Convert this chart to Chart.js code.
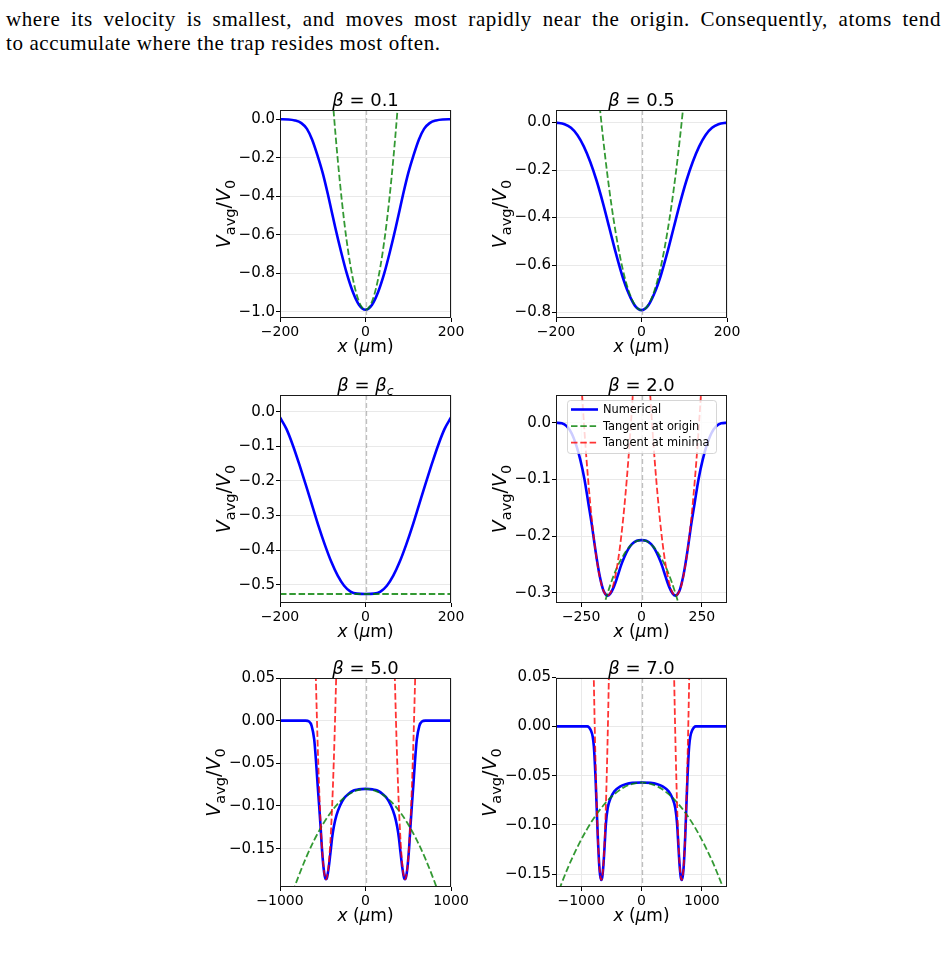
<!DOCTYPE html>
<html>
<head>
<meta charset="utf-8">
<script src="https://cdn.jsdelivr.net/npm/chart.js@4.4.1/dist/chart.umd.min.js"></script>
<style>
  body { margin: 0; background: #fff; width: 947px; height: 967px; overflow: hidden; position: relative; }
  .txt { position: absolute; left: 6px; width: 935px; font: 21px "Liberation Serif", serif; line-height: 23px; color: #000; letter-spacing: 0.6px; }
  #l1 { top: 8px; text-align: justify; text-align-last: justify; }
  #l2 { top: 32px; white-space: nowrap; }
  canvas { position: absolute; }
</style>
</head>
<body>
<div class="txt" id="l1">where its velocity is smallest, and moves most rapidly near the origin. Consequently, atoms tend</div>
<div class="txt" id="l2">to accumulate where the trap resides most often.</div>
<canvas id="c1"></canvas>
<canvas id="c2"></canvas>
<canvas id="c3"></canvas>
<canvas id="c4"></canvas>
<canvas id="c5"></canvas>
<canvas id="c6"></canvas>
<script>
const FONT = '"DejaVu Sans"';

// ---- beta = 0.1 ----
const x1Num = [-200,-180,-165,-150,-137,-125,-112,-100,-88,-80,-71,-57,-44,-30,-15,0,15,30,44,57,71,80,88,100,112,125,137,150,165,180,200];
const y1Num = [0,-0.001,-0.006,-0.02,-0.05,-0.105,-0.19,-0.28,-0.39,-0.47,-0.56,-0.69,-0.8,-0.895,-0.965,-0.99,-0.965,-0.895,-0.8,-0.69,-0.56,-0.47,-0.39,-0.28,-0.19,-0.105,-0.05,-0.02,-0.006,-0.001,0];
const x1Org = [-80,-70,-60,-50,-40,-30,-20,-10,0,10,20,30,40,50,60,70,80];
const y1Org = [0.194,-0.083,-0.324,-0.528,-0.694,-0.824,-0.916,-0.972,-0.99,-0.972,-0.916,-0.824,-0.694,-0.528,-0.324,-0.083,0.194];
const x1Ticks = [-200, 0, 200];
const y1Ticks = [0, -0.2, -0.4, -0.6, -0.8, -1.0];

// ---- beta = 0.5 ----
const x2Num = [-200,-180,-165,-150,-135,-120,-105,-90,-75,-60,-45,-30,-15,0,15,30,45,60,75,90,105,120,135,150,165,180,200];
const y2Num = [0,-0.007,-0.022,-0.052,-0.1,-0.165,-0.245,-0.34,-0.445,-0.55,-0.645,-0.72,-0.772,-0.79,-0.772,-0.72,-0.645,-0.55,-0.445,-0.34,-0.245,-0.165,-0.1,-0.052,-0.022,-0.007,0];
const x2Org = [-100,-90,-80,-70,-60,-50,-40,-30,-20,-10,0,10,20,30,40,50,60,70,80,90,100];
const y2Org = [0.106,-0.064,-0.217,-0.351,-0.467,-0.566,-0.647,-0.709,-0.754,-0.781,-0.79,-0.781,-0.754,-0.709,-0.647,-0.566,-0.467,-0.351,-0.217,-0.064,0.106];
const x2Ticks = [-200, 0, 200];
const y2Ticks = [0, -0.2, -0.4, -0.6, -0.8];

// ---- beta = beta_c ----
const x3Num = [-200,-185,-170,-155,-140,-125,-110,-95,-80,-65,-50,-35,-20,0,20,35,50,65,80,95,110,125,140,155,170,185,200];
const y3Num = [-0.017,-0.05,-0.097,-0.152,-0.21,-0.27,-0.33,-0.385,-0.434,-0.474,-0.503,-0.52,-0.526,-0.527,-0.526,-0.52,-0.503,-0.474,-0.434,-0.385,-0.33,-0.27,-0.21,-0.152,-0.097,-0.05,-0.017];
const x3Org = [-200, 200];
const y3Org = [-0.527, -0.527];
const x3Ticks = [-200, 0, 200];
const y3Ticks = [0, -0.1, -0.2, -0.3, -0.4, -0.5];

// ---- beta = 2.0 ----
const x4Num = [-354,-330,-310,-290,-270,-253,-236,-220,-205,-190,-175,-160,-150,-141,-130,-115,-100,-85,-70,-55,-40,-20,0,20,40,55,70,85,100,115,130,141,150,160,175,190,205,220,236,253,270,290,310,330,354];
const y4Num = [0,-0.001,-0.006,-0.018,-0.04,-0.066,-0.1,-0.142,-0.182,-0.227,-0.266,-0.293,-0.302,-0.305,-0.302,-0.29,-0.272,-0.252,-0.236,-0.223,-0.214,-0.208,-0.207,-0.208,-0.214,-0.223,-0.236,-0.252,-0.272,-0.29,-0.302,-0.305,-0.302,-0.293,-0.266,-0.227,-0.182,-0.142,-0.1,-0.066,-0.04,-0.018,-0.006,-0.001,0];
const x4Org = [-160,-150,-125,-100,-75,-50,-25,0,25,50,75,100,125,150,160];
const y4Org = [-0.328,-0.314,-0.281,-0.254,-0.234,-0.219,-0.21,-0.207,-0.21,-0.219,-0.234,-0.254,-0.281,-0.314,-0.328];
const x4MinL = [-251,-231,-211,-191,-171,-156,-141,-126,-111,-91,-71,-51,-31];
const x4MinR = [31,51,71,91,111,126,141,156,171,191,211,231,251];
const y4Min = [0.082,-0.046,-0.148,-0.225,-0.276,-0.298,-0.305,-0.298,-0.276,-0.225,-0.148,-0.046,0.082];
const x4Ticks = [-250, 0, 250];
const y4Ticks = [0, -0.1, -0.2, -0.3];

// ---- beta = 5.0 ----
const x5Num = [-1000,-700,-660,-630,-600,-577,-560,-542,-525,-511,-490,-475,-462,-450,-430,-410,-390,-370,-340,-300,-250,-200,-150,-100,-50,0,50,100,150,200,250,300,340,370,390,410,430,450,462,475,490,511,525,542,560,577,600,630,660,700,1000];
const y5Num = [0,0,-0.001,-0.006,-0.022,-0.05,-0.075,-0.1,-0.125,-0.148,-0.173,-0.183,-0.186,-0.184,-0.172,-0.155,-0.137,-0.124,-0.111,-0.1,-0.091,-0.086,-0.0825,-0.081,-0.0803,-0.08,-0.0803,-0.081,-0.0825,-0.086,-0.091,-0.1,-0.111,-0.124,-0.137,-0.155,-0.172,-0.184,-0.186,-0.183,-0.173,-0.148,-0.125,-0.1,-0.075,-0.05,-0.022,-0.006,-0.001,0,0];
const x5Org = [-850,-800,-700,-600,-500,-400,-300,-200,-100,0,100,200,300,400,500,600,700,800,850];
const y5Org = [-0.2007,-0.1869,-0.1618,-0.1401,-0.1218,-0.1067,-0.095,-0.0867,-0.0817,-0.08,-0.0817,-0.0867,-0.095,-0.1067,-0.1218,-0.1401,-0.1618,-0.1869,-0.2007];
const x5MinL = [-582,-562,-542,-522,-502,-482,-462,-442,-422,-402,-382,-362,-342];
const x5MinR = [342,362,382,402,422,442,462,482,502,522,542,562,582];
const y5Min = [0.054,-0.0193,-0.0793,-0.126,-0.159,-0.179,-0.186,-0.179,-0.159,-0.126,-0.0793,-0.0193,0.054];
const x5Ticks = [-1000, 0, 1000];
const y5Ticks = [0.05, 0, -0.05, -0.1, -0.15];

// ---- beta = 7.0 ----
const x6Num = [-1417,-900,-870,-840,-810,-790,-775,-762,-743,-724,-705,-690,-678,-666,-650,-630,-610,-590,-560,-520,-450,-350,-250,-150,0,150,250,350,450,520,560,590,610,630,650,666,678,690,705,724,743,762,775,790,810,840,870,900,1417];
const y6Num = [0,0,-0.001,-0.004,-0.01,-0.02,-0.035,-0.052,-0.082,-0.113,-0.137,-0.149,-0.154,-0.156,-0.153,-0.14,-0.12,-0.099,-0.083,-0.074,-0.066,-0.061,-0.0585,-0.0574,-0.057,-0.0574,-0.0585,-0.061,-0.066,-0.074,-0.083,-0.099,-0.12,-0.14,-0.153,-0.156,-0.154,-0.149,-0.137,-0.113,-0.082,-0.052,-0.035,-0.02,-0.01,-0.004,-0.001,0,0];
const x6Org = [-1420,-1200,-1050,-900,-750,-600,-450,-300,-150,0,150,300,450,600,750,900,1050,1200,1420];
const y6Org = [-0.1744,-0.1408,-0.1212,-0.1041,-0.0897,-0.078,-0.0688,-0.0622,-0.0583,-0.057,-0.0583,-0.0622,-0.0688,-0.078,-0.0897,-0.1041,-0.1212,-0.1408,-0.1744];
const x6MinL = [-796,-776,-756,-736,-716,-696,-666,-636,-616,-596,-576,-556,-536];
const x6MinR = [536,556,576,596,616,636,666,696,716,736,756,776,796];
const y6Min = [0.0657,0.0027,-0.0497,-0.0917,-0.1232,-0.1442,-0.156,-0.1442,-0.1232,-0.0917,-0.0497,0.0027,0.0657];
const x6Ticks = [-1000, 0, 1000];
const y6Ticks = [0.05, 0, -0.05, -0.1, -0.15];

const legendLabels = ['Numerical', 'Tangent at origin', 'Tangent at minima'];

// utseende för de tre kurvtyperna
const styles = {
  num: { borderColor: '#0000ff', borderWidth: 2.6, order: 3 },
  org: { borderColor: 'rgba(0,128,0,0.8)', borderWidth: 1.8, borderDash: [6.5, 2.8], order: 2 },
  min: { borderColor: 'rgba(255,0,0,0.8)', borderWidth: 1.8, borderDash: [6.5, 2.8], order: 1 }
};

const it = s => 'italic ' + s + 'px ' + FONT;
const up = s => s + 'px ' + FONT;

const panels = [
  { id: 'c1', box: [280, 110, 451, 318], xr: [-200, 200], yr: [-1.033, 0.048], xt: x1Ticks, yt: y1Ticks, dec: 1,
    title: [['β', it(18)], [' = 0.1', up(18)]],
    series: [['num', x1Num, y1Num], ['org', x1Org, y1Org]] },
  { id: 'c2', box: [556, 110, 727, 318], xr: [-200, 200], yr: [-0.823, 0.053], xt: x2Ticks, yt: y2Ticks, dec: 1,
    title: [['β', it(18)], [' = 0.5', up(18)]],
    series: [['num', x2Num, y2Num], ['org', x2Org, y2Org]] },
  { id: 'c3', box: [280, 395, 451, 603], xr: [-200, 200], yr: [-0.553, 0.048], xt: x3Ticks, yt: y3Ticks, dec: 1,
    title: [['β', it(18)], [' = ', up(18)], ['β', it(18)], ['c', it(12.5), 4]],
    series: [['num', x3Num, y3Num], ['org', x3Org, y3Org]] },
  { id: 'c4', box: [556, 395, 727, 603], xr: [-354, 354], yr: [-0.318, 0.049], xt: x4Ticks, yt: y4Ticks, dec: 1,
    title: [['β', it(18)], [' = 2.0', up(18)]], legend: true,
    series: [['num', x4Num, y4Num], ['org', x4Org, y4Org], ['min', x4MinL, y4Min], ['min', x4MinR, y4Min]] },
  { id: 'c5', box: [280, 678, 451, 887], xr: [-1000, 1000], yr: [-0.195, 0.05], xt: x5Ticks, yt: y5Ticks, dec: 2,
    title: [['β', it(18)], [' = 5.0', up(18)]],
    series: [['num', x5Num, y5Num], ['org', x5Org, y5Org], ['min', x5MinL, y5Min], ['min', x5MinR, y5Min]] },
  { id: 'c6', box: [556, 678, 727, 887], xr: [-1417, 1417], yr: [-0.1632, 0.0492], xt: x6Ticks, yt: y6Ticks, dec: 2,
    title: [['β', it(18)], [' = 7.0', up(18)]],
    series: [['num', x6Num, y6Num], ['org', x6Org, y6Org], ['min', x6MinL, y6Min], ['min', x6MinR, y6Min]] }
];

// text med blandade typsnitt, centrerad kring x
function rich(ctx, parts, x, y) {
  let w = 0;
  parts.forEach(p => { ctx.font = p[1]; w += ctx.measureText(p[0]).width; });
  let cx = x - w / 2;
  parts.forEach(p => {
    ctx.font = p[1];
    ctx.fillText(p[0], cx, y + (p[2] || 0));
    cx += ctx.measureText(p[0]).width;
  });
}

function fmt(v, dec) {
  return (v < 0 ? '\u2212' : '') + Math.abs(v).toFixed(dec);
}

function drawLegend(ctx, a) {
  const bx = a.left + 11, by = a.top + 5, bw = 149, bh = 53;
  ctx.save();
  ctx.fillStyle = 'rgba(255,255,255,0.8)';
  ctx.strokeStyle = 'rgba(204,204,204,0.8)';
  ctx.lineWidth = 1;
  ctx.beginPath();
  ctx.roundRect(bx + 0.5, by + 0.5, bw, bh, 3);
  ctx.fill();
  ctx.stroke();
  const kinds = ['num', 'org', 'min'];
  ctx.font = up(11.4);
  ctx.textBaseline = 'middle';
  kinds.forEach((k, i) => {
    const ry = by + 9.5 + i * 16.6;
    const s = styles[k];
    ctx.strokeStyle = s.borderColor;
    ctx.lineWidth = s.borderWidth;
    ctx.setLineDash(s.borderDash || []);
    ctx.beginPath();
    ctx.moveTo(bx + 4, ry);
    ctx.lineTo(bx + 31, ry);
    ctx.stroke();
    ctx.setLineDash([]);
    ctx.fillStyle = '#000';
    ctx.fillText(legendLabels[i], bx + 36, ry + 0.5);
  });
  ctx.restore();
}

function deco(p) {
  return {
    id: 'deco' + p.id,
    afterDatasetsDraw(chart) {
      const ctx = chart.ctx, a = chart.chartArea;
      // streckad linje vid x = 0
      const x0 = Math.round(chart.scales.x.getPixelForValue(0)) + 0.5;
      ctx.save();
      ctx.beginPath();
      ctx.rect(a.left, a.top, a.right - a.left, a.bottom - a.top);
      ctx.clip();
      ctx.strokeStyle = 'rgba(128,128,128,0.5)';
      ctx.lineWidth = 1.3;
      ctx.setLineDash([5, 3]);
      ctx.beginPath();
      ctx.moveTo(x0, a.top);
      ctx.lineTo(x0, a.bottom);
      ctx.stroke();
      ctx.restore();
      if (p.legend) drawLegend(ctx, a);
    },
    afterDraw(chart) {
      const ctx = chart.ctx, a = chart.chartArea;
      ctx.save();
      ctx.strokeStyle = '#1a1a1a';
      ctx.lineWidth = 1;
      ctx.strokeRect(a.left + 0.5, a.top + 0.5, a.right - a.left - 1, a.bottom - a.top - 1);
      ctx.fillStyle = '#000';
      ctx.textBaseline = 'alphabetic';
      const cx = (a.left + a.right) / 2;
      rich(ctx, p.title, cx, a.top - 4.5);
      rich(ctx, [['x', it(17)], [' (', up(17)], ['μ', it(17)], ['m)', up(17)]], cx, a.bottom + 34);
      ctx.translate(a.left - (p.dec === 2 ? 60 : 50), (a.top + a.bottom) / 2);
      ctx.rotate(-Math.PI / 2);
      rich(ctx, [['V', it(19)], ['avg', up(14.5), 4.5], ['/', up(19)], ['V', it(19)], ['0', up(14.5), 4.5]], 0, 0);
      ctx.restore();
    }
  };
}

panels.forEach(p => {
  const cv = document.getElementById(p.id);
  const w = p.box[2] - p.box[0], h = p.box[3] - p.box[1];
  cv.width = w + 120;
  cv.height = h + 80;
  cv.style.left = (p.box[0] - 90) + 'px';
  cv.style.top = (p.box[1] - 30) + 'px';

  const datasets = p.series.map(s => Object.assign({
    data: s[1].map((x, i) => ({ x: x, y: s[2][i] })),
    pointRadius: 0,
    fill: false,
    cubicInterpolationMode: 'monotone'
  }, styles[s[0]]));

  new Chart(cv.getContext('2d'), {
    type: 'line',
    data: { datasets: datasets },
    options: {
      responsive: false,
      animation: false,
      events: [],
      layout: { padding: { left: 0, top: 30, right: 30, bottom: 0 } },
      plugins: { legend: { display: false }, tooltip: { enabled: false }, title: { display: false } },
      scales: {
        x: {
          type: 'linear', min: p.xr[0], max: p.xr[1],
          afterFit: s => { s.height = 50; },
          afterBuildTicks: s => { s.ticks = p.xt.map(v => ({ value: v })); },
          grid: { color: '#e9e9e9', lineWidth: 1, tickLength: 4, tickColor: '#000', tickWidth: 1 },
          border: { display: false },
          ticks: { font: { family: FONT, size: 14 }, color: '#000', padding: 2, maxRotation: 0, autoSkip: false, callback: v => fmt(v, 0) }
        },
        y: {
          type: 'linear', min: p.yr[0], max: p.yr[1],
          afterFit: s => { s.width = 90; },
          afterBuildTicks: s => { s.ticks = p.yt.map(v => ({ value: v })); },
          grid: { color: '#e9e9e9', lineWidth: 1, tickLength: 4, tickColor: '#000', tickWidth: 1 },
          border: { display: false },
          ticks: { font: { family: FONT, size: 15 }, color: '#000', padding: 1, autoSkip: false, callback: v => fmt(v, p.dec) }
        }
      }
    },
    plugins: [deco(p)]
  });
});
</script>
</body>
</html>
